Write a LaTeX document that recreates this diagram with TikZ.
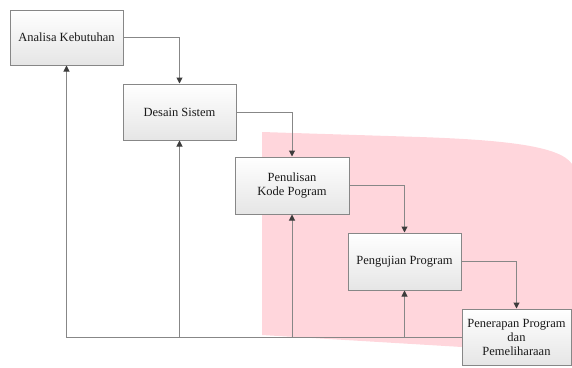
\documentclass[tikz,border=0pt]{standalone}
\usepackage{fontspec}
\setmainfont{Liberation Serif}
\usetikzlibrary{arrows.meta,shadows}
\definecolor{pinkzone}{RGB}{255,214,220}
\definecolor{linegray}{RGB}{135,135,135}
\definecolor{tipgray}{RGB}{60,60,60}
\tikzset{
  stage/.style={draw=linegray, line width=1pt, top color=white, bottom color=black!10,
    align=center, inner sep=2pt, text=black!90,
    font=\fontsize{12.5}{14}\selectfont,
    drop shadow={shadow xshift=1pt, shadow yshift=-1pt, fill=black!30, opacity=0.6}},
  flow/.style={draw=linegray, line width=1pt,
    -{Triangle[width=6pt,length=6pt,color=tipgray]}},
  plain/.style={draw=linegray, line width=1pt}
}
\begin{document}
\begin{tikzpicture}[x=1pt,y=-1pt]
  \useasboundingbox (0,0) rectangle (572,367);
  % highlighted zone behind the later stages
  \fill[pinkzone] (262,132) -- (420,137) .. controls (505,140) and (560,146) .. (572,164)
    -- (572,330) -- (462,347) -- (262,335) -- cycle;

  % stages of the waterfall
  \node[stage, minimum width=113pt, minimum height=55pt] (s1) at (66.5,37.5) {Analisa Kebutuhan};
  \node[stage, minimum width=113pt, minimum height=56pt] (s2) at (179.5,112) {Desain Sistem};
  \node[stage, minimum width=114pt, minimum height=57pt] (s3) at (292,185.5) {Penulisan\\Kode Pogram};
  \node[stage, minimum width=113pt, minimum height=57pt] (s4) at (404.5,261.5) {Pengujian Program};
  \node[stage, minimum width=109pt, minimum height=56pt] (s5) at (516.5,337) {Penerapan Program\\dan\\Pemeliharaan};

  % forward flow
  \draw[flow] (s1.east) -| (s2.north);
  \draw[flow] (s2.east) -| (s3.north);
  \draw[flow] (s3.east) -| (s4.north);
  \draw[flow] (s4.east) -| (s5.north);

  % feedback line back to every earlier stage
  \draw[flow] (s5.west) -| (s1.south);
  \draw[flow] (s5.west -| s2.south) -- (s2.south);
  \draw[flow] (s5.west -| s3.south) -- (s3.south);
  \draw[flow] (s5.west -| s4.south) -- (s4.south);
\end{tikzpicture}
\end{document}
